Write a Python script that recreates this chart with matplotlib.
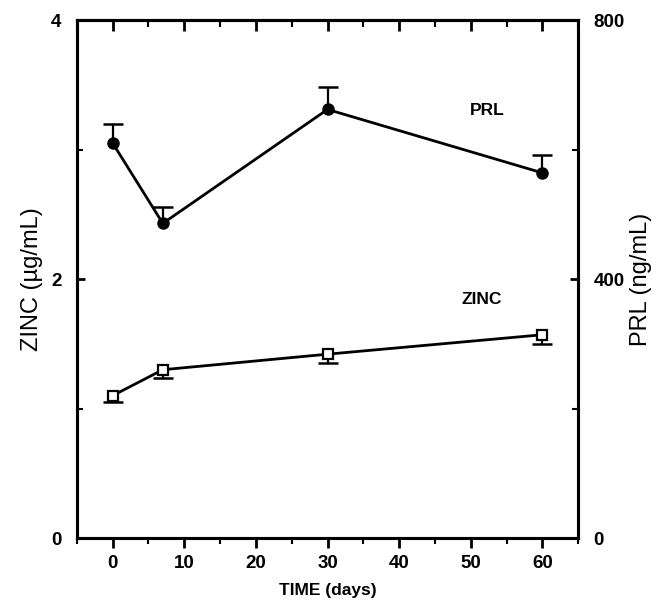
import matplotlib.pyplot as plt
from matplotlib.ticker import MultipleLocator

plt.rcParams['font.family'] = ['Liberation Sans', 'DejaVu Sans']

# data
days = [0, 7, 30, 60]
zinc = [1.10, 1.30, 1.42, 1.57]
zinc_se = [0.05, 0.065, 0.07, 0.07]
prl = [610, 486, 662, 564]
prl_se = [30, 25, 34, 28]

fig = plt.figure(figsize=(6.57, 6.08), dpi=100)
ax = fig.add_axes([0.117, 0.115, 0.763, 0.852])
ax2 = ax.twinx()

lw = 2.0
# one-sided error bars: zinc downward, PRL upward
zinc_low = [v - e for v, e in zip(zinc, zinc_se)]
prl_high = [v + e for v, e in zip(prl, prl_se)]
ax.vlines(days, zinc_low, zinc, color='black', lw=1.6)
ax.plot(days, zinc_low, ls='none', marker='_', ms=15, mew=1.8, color='black')
ax2.vlines(days, prl, prl_high, color='black', lw=1.6)
ax2.plot(days, prl_high, ls='none', marker='_', ms=15, mew=1.8, color='black')

ax.plot(days, zinc, color='black', lw=lw, marker='s', ms=6.5,
        mfc='white', mec='black', mew=1.6, zorder=3)
ax2.plot(days, prl, color='black', lw=lw, marker='o', ms=8,
         mfc='black', mec='black', zorder=3)

ax.set_xlim(-5, 65)
ax.set_ylim(0, 4)
ax2.set_ylim(0, 800)

ax.xaxis.set_major_locator(MultipleLocator(10))
ax.xaxis.set_minor_locator(MultipleLocator(5))
ax.yaxis.set_major_locator(MultipleLocator(2))
ax.yaxis.set_minor_locator(MultipleLocator(1))
ax2.yaxis.set_major_locator(MultipleLocator(400))
ax2.yaxis.set_minor_locator(MultipleLocator(200))

ax.tick_params(axis='x', which='major', direction='out', length=7, width=2,
               labelsize=13.5, pad=5)
ax.tick_params(axis='x', which='minor', direction='out', length=4, width=1.5)
ax.tick_params(axis='y', which='major', direction='in', length=6, width=2,
               labelsize=13.5, pad=11)
ax.tick_params(axis='y', which='minor', direction='in', length=4, width=1.5)
ax2.tick_params(axis='y', which='major', direction='in', length=6, width=2,
                labelsize=13.5, pad=11)
ax2.tick_params(axis='y', which='minor', direction='in', length=4, width=1.5)

top = ax.secondary_xaxis('top')
top.xaxis.set_major_locator(MultipleLocator(10))
top.xaxis.set_minor_locator(MultipleLocator(5))
top.tick_params(which='major', direction='in', length=8, width=2, labeltop=False)
top.tick_params(which='minor', direction='in', length=5, width=1.5)
top.spines['top'].set_linewidth(2.2)

for a in (ax, ax2):
    for s in a.spines.values():
        s.set_linewidth(2.2)
    for lab in a.get_xticklabels() + a.get_yticklabels():
        lab.set_fontweight('bold')

ax.set_xlabel('TIME (days)', fontsize=12.5, fontweight='bold', labelpad=8)
ax.set_ylabel('ZINC (µg/mL)', fontsize=17, labelpad=6)
ax2.set_ylabel('PRL (ng/mL)', fontsize=17, labelpad=4)

ax.text(52.3, 3.30, 'PRL', fontsize=12.5, fontweight='bold', ha='center', va='center')
ax.text(51.5, 1.84, 'ZINC', fontsize=12.5, fontweight='bold', ha='center', va='center')

fig.savefig('out.png', dpi=100)
